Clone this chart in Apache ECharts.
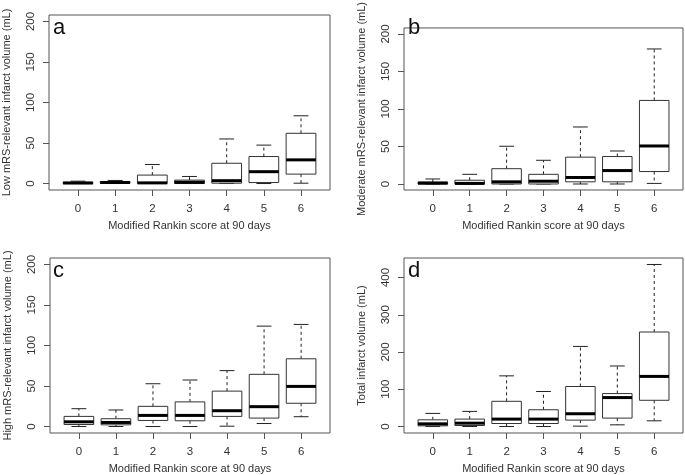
<!DOCTYPE html>
<html>
<head>
<meta charset="utf-8">
<script src="https://cdn.jsdelivr.net/npm/echarts@6/dist/echarts.min.js"></script>
<style>html,body{margin:0;padding:0;background:#fff;}#c{width:685px;height:475px;}</style>
</head>
<body>
<div id="c"></div>
<script>
// Categories: modified Rankin score at 90 days
const categories = ['0', '1', '2', '3', '4', '5', '6'];
// Each entry: [min, Q1, median, Q3, max]
const lowVolume = [
  [0, 0, 0.6, 1.6, 2.9],
  [0, 0.3, 1.3, 2.5, 3.8],
  [0, 0, 0.8, 10.4, 23.5],
  [0, 0, 1.5, 4.2, 8.7],
  [0, 0.4, 3.5, 25, 55],
  [0, 1.2, 14.6, 33.3, 47.4],
  [0.4, 11.6, 29.2, 62, 83.6]
];
const moderateVolume = [
  [0, 0, 1.2, 2.5, 6.7],
  [0, 0, 0.8, 5, 12.9],
  [0, 0, 2.9, 20.4, 50.3],
  [0, 0, 3.7, 12.9, 31.6],
  [0, 2.9, 8.7, 35.8, 76],
  [0, 2.9, 17.9, 36.6, 44],
  [0.8, 16.6, 50.7, 111.4, 180]
];
const highVolume = [
  [0, 2.5, 5.8, 12.5, 22],
  [0, 2.1, 5, 9.6, 20.4],
  [0, 7.5, 13.7, 24.9, 52.8],
  [0, 7.1, 13.7, 30.4, 57.4],
  [0.4, 12.5, 19.5, 43.7, 69],
  [3.7, 10.4, 24.5, 64.4, 123.9],
  [12.1, 28.7, 49.5, 83.6, 126]
];
const totalVolume = [
  [0, 1.8, 7.2, 18, 35.2],
  [0, 2.7, 9, 19.9, 40.6],
  [0, 8.1, 19.9, 67.7, 136],
  [0, 8.1, 19.9, 45, 94],
  [1, 17.2, 34.3, 107.4, 215],
  [4.5, 22.6, 77.7, 88.5, 162.5],
  [15.3, 70.4, 134.5, 253.7, 435]
];
const ticksSmall = [0, 50, 100, 150, 200];
const ticksTotal = [0, 100, 200, 300, 400];
const xTitle = 'Modified Rankin score at 90 days';
const yTitles = [
  'Low mRS-relevant infarct volume (mL)',
  'Moderate mRS-relevant infarct volume (mL)',
  'High mRS-relevant infarct volume (mL)',
  'Total infarct volume (mL)'
];
const panelLetters = ['a', 'b', 'c', 'd'];

const panels = [lowVolume, moderateVolume, highVolume, totalVolume];
const yTicks = [ticksSmall, ticksSmall, ticksSmall, ticksTotal];
const yRanges = [[-8, 208], [-8, 208], [-8, 208], [-17.4, 452.4]];
const gridPos = [
  {left: 49, top: 15, width: 281, height: 175},
  {left: 404, top: 15, width: 279, height: 175},
  {left: 50, top: 258, width: 280, height: 175},
  {left: 404, top: 258, width: 279, height: 175}
];
const letterPos = [[53, 17], [408, 17], [53, 260], [408, 260]];

const font = 'Liberation Sans, Arial, sans-serif';
const textColor = '#333';
const frameColor = '#555';
const xIdx = categories.map((c, i) => i);

const grids = [], xAxes = [], yAxes = [], series = [], titles = [];
panels.forEach((data, p) => {
  grids.push(Object.assign({show: true, borderColor: frameColor, borderWidth: 1, backgroundColor: 'transparent', containLabel: false}, gridPos[p]));
  xAxes.push({
    type: 'value', gridIndex: p, min: -0.78, max: 6.78, position: 'bottom',
    name: xTitle, nameLocation: 'middle', nameGap: 30,
    nameTextStyle: {fontFamily: font, fontSize: 11, color: textColor},
    axisLine: {show: false, onZero: false},
    splitLine: {show: false},
    axisTick: {show: true, customValues: xIdx, length: 6, lineStyle: {color: frameColor}},
    axisLabel: {customValues: xIdx, formatter: v => categories[Math.round(v)], margin: 13, fontFamily: font, fontSize: 11.5, color: textColor}
  });
  yAxes.push({
    type: 'value', gridIndex: p, min: yRanges[p][0], max: yRanges[p][1], position: 'left',
    name: yTitles[p], nameLocation: 'middle', nameGap: 37, nameRotate: 90,
    nameTextStyle: {fontFamily: font, fontSize: 11, color: textColor},
    axisLine: {show: false, onZero: false},
    splitLine: {show: false},
    axisTick: {show: true, customValues: yTicks[p], length: 6, lineStyle: {color: frameColor}},
    axisLabel: {customValues: yTicks[p], rotate: 90, margin: 12, fontFamily: font, fontSize: 11.5, color: textColor}
  });
  titles.push({
    text: panelLetters[p], left: letterPos[p][0], top: letterPos[p][1], padding: 0,
    textStyle: {fontFamily: font, fontSize: 22, fontWeight: 'normal', color: '#111'}
  });
  series.push({
    type: 'custom', xAxisIndex: p, yAxisIndex: p,
    data: data.map((d, i) => [i].concat(d)),
    encode: {x: 0, y: [1, 2, 3, 4, 5]},
    renderItem: function (params, api) {
      const x = api.value(0);
      const pMin = api.coord([x, api.value(1)]);
      const pQ1 = api.coord([x, api.value(2)]);
      const pMed = api.coord([x, api.value(3)]);
      const pQ3 = api.coord([x, api.value(4)]);
      const pMax = api.coord([x, api.value(5)]);
      const halfBox = api.size([0.8, 0])[0] / 2;
      const halfCap = halfBox / 2;
      const cx = pMed[0];
      const thin = {stroke: '#222', lineWidth: 1, fill: null};
      const dashed = {stroke: '#222', lineWidth: 1, lineDash: [3, 3], fill: null};
      return {
        type: 'group',
        children: [
          {type: 'line', shape: {x1: cx, y1: pQ3[1], x2: cx, y2: pMax[1]}, style: dashed},
          {type: 'line', shape: {x1: cx, y1: pQ1[1], x2: cx, y2: pMin[1]}, style: dashed},
          {type: 'line', shape: {x1: cx - halfCap, y1: pMax[1], x2: cx + halfCap, y2: pMax[1]}, style: thin},
          {type: 'line', shape: {x1: cx - halfCap, y1: pMin[1], x2: cx + halfCap, y2: pMin[1]}, style: thin},
          {type: 'rect', shape: {x: cx - halfBox, y: pQ3[1], width: 2 * halfBox, height: pQ1[1] - pQ3[1]}, style: {stroke: '#333', lineWidth: 1, fill: '#fff'}},
          {type: 'line', shape: {x1: cx - halfBox, y1: pMed[1], x2: cx + halfBox, y2: pMed[1]}, style: {stroke: '#000', lineWidth: 3}}
        ]
      };
    }
  });
});

const chart = echarts.init(document.getElementById('c'), null, {renderer: 'canvas'});
chart.setOption({
  animation: false,
  backgroundColor: '#fff',
  title: titles,
  grid: grids,
  xAxis: xAxes,
  yAxis: yAxes,
  series: series
});
</script>
</body>
</html>
